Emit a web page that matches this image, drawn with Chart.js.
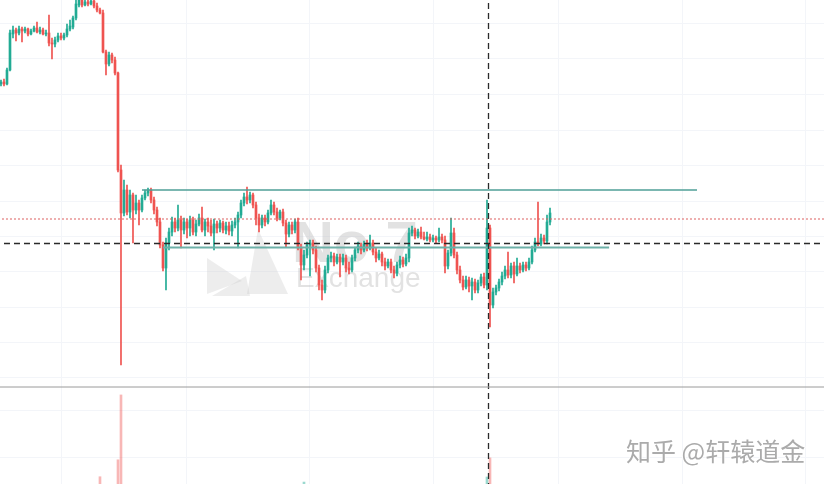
<!DOCTYPE html>
<html><head><meta charset="utf-8">
<script src="https://cdn.jsdelivr.net/npm/chart.js@4.4.0/dist/chart.umd.min.js"></script>
<style>html,body{margin:0;padding:0;background:#fff;overflow:hidden}canvas{display:block}</style>
</head><body>
<canvas id="c" width="824" height="484"></canvas>
<script>
// ---- candle data (one entry per bar, oldest first) ----
const openP = [
416,418,416,430,466,470,467,471,469,471,
466,469,472,468,470,466,467,457,456,460,
464,462,465,471,473,482,495,500,495,498,
496,499,494,490,487,448,436,445,440,427,
330,287,310,288,305,290,297,290,302,307,
310,300,290,278,255,232,257,268,278,272,
280,270,278,272,280,268,276,282,270,278,
274,267,276,272,277,270,274,269,275,278,
285,297,303,300,305,295,282,275,282,278,
287,295,288,282,288,277,266,275,270,278,
252,235,245,255,257,250,232,215,210,230,
242,244,238,243,238,242,232,230,242,250,
254,250,256,252,257,248,242,246,238,234,
238,230,227,235,240,236,242,267,270,264,
268,263,261,263,260,262,260,263,260,234,
247,267,245,230,220,213,220,214,218,210,
217,223,215,272,195,208,212,218,224,230,
225,234,226,234,230,235,232,238,250,258,
256,262,259,278];
const highP = [
420,421,432,470,474,472,474,473,473,472,
471,474,478,473,472,470,485,462,463,467,
467,467,476,480,484,500,502,503,500,502,
502,502,497,492,490,450,448,447,443,428,
335,320,315,310,307,305,300,305,310,312,
312,303,293,282,258,262,272,283,282,295,
284,282,281,284,283,280,286,293,281,282,
280,281,279,280,279,278,278,279,282,288,
300,307,313,308,307,298,286,285,285,290,
300,298,292,290,291,280,278,278,281,282,
256,250,258,260,260,254,235,220,234,245,
248,247,246,246,246,245,238,245,253,258,
257,259,260,265,260,252,250,248,242,241,
241,234,238,244,243,246,272,274,272,271,
273,268,268,266,265,264,272,266,264,250,
282,272,248,234,224,224,223,222,221,220,
226,227,300,275,212,215,221,228,234,248,
237,238,242,237,238,238,242,254,262,298,
266,265,285,292];
const lowP = [
414,414,415,429,462,459,465,458,467,464,
465,468,467,466,465,464,454,441,453,458,
460,460,463,469,471,480,493,493,494,494,
495,492,488,486,447,425,434,437,425,328,
135,284,285,282,257,286,275,288,300,304,
297,286,274,252,229,210,250,264,268,269,
252,266,262,264,265,264,274,268,264,268,
264,250,267,268,267,266,265,264,272,252,
282,294,296,297,292,275,268,272,274,276,
285,285,279,280,274,253,263,266,267,250,
220,230,242,224,246,228,210,200,207,227,
238,234,236,223,235,228,226,228,239,247,
246,248,249,250,245,238,240,234,230,232,
227,222,224,232,233,234,238,264,261,262,
261,260,259,258,258,257,258,257,227,231,
244,242,226,217,210,211,208,200,207,207,
214,212,210,173,192,205,209,215,221,222,
222,217,224,227,228,229,230,236,248,254,
254,256,256,275];
const closeP = [
418,416,430,467,470,467,471,469,471,466,
469,472,468,470,466,467,457,456,460,464,
462,465,471,474,482,496,500,495,498,496,
499,494,490,487,448,436,445,440,427,330,
287,310,288,305,290,297,290,302,307,310,
300,290,278,255,232,257,268,278,272,280,
270,278,272,280,268,276,282,270,278,274,
267,276,272,277,270,274,269,275,278,285,
297,303,300,305,295,282,275,282,278,287,
295,288,282,288,277,266,275,270,278,252,
235,245,255,257,250,232,215,210,230,242,
244,238,243,238,242,232,230,242,250,254,
250,256,252,257,248,242,246,238,234,238,
230,227,235,240,236,242,267,270,264,268,
263,261,263,260,262,260,263,260,234,247,
267,245,230,220,213,220,214,218,210,217,
223,215,272,195,208,212,218,224,230,225,
234,226,234,230,235,232,238,250,258,256,
262,259,278,287];
// visible volume spikes (bar index -> volume)
const volIndex = [33, 39, 40, 101, 162, 163];
const volValue = [150, 500, 1840, 40, 145, 540];

// drawn levels (price) and their time spans (bar index)
const rangeTop = 310, rangeTopFrom = 47, rangeTopTo = 232;
const rangeLow = 252.5, rangeLowFrom = 54, rangeLowTo = 202.7;
const lastPriceLevel = 281;
const crossPrice = 256.5;
const crossBar = 162.5;
const paneDivider = 113;

// grid positions
const priceGrid = [476,441,405,370,335,299,264,229,193,158,123,90,43];
const timeGrid = [20.33,62,103,144.3,185.7,227,268.3];

const UP = '#22ab94', DOWN = '#ef5350';
const idx = openP.map((_, i) => i);
const colors = idx.map(i => closeP[i] >= openP[i] ? UP : DOWN);

const X_MIN = -0.33, X_MAX = 274.33, Y_MIN = 16, Y_MAX = 500;

function hLine(y, x0, x1, color, width, dash, order) {
  return { type: 'line', data: [{x: x0, y: y}, {x: x1, y: y}], borderColor: color,
    borderWidth: width, borderDash: dash, pointRadius: 0, fill: false, order: order, yAxisID: 'y' };
}

const watermark = {
  id: 'wm',
  beforeDatasetsDraw(chart) {
    const c = chart.ctx; c.save();
    c.fillStyle = 'rgba(200,200,200,0.32)';
    c.beginPath(); c.moveTo(207,258); c.lineTo(242,281); c.lineTo(207,294); c.closePath(); c.fill();
    c.beginPath(); c.moveTo(212,296); c.lineTo(246,276); c.lineTo(250,296); c.closePath(); c.fill();
    c.beginPath(); c.moveTo(258,229); c.lineTo(288,294); c.lineTo(247,294); c.closePath(); c.fill();
    c.fillStyle = 'rgba(190,190,190,0.45)';
    c.font = 'bold 58px "Liberation Sans", Arial, sans-serif';
    c.textBaseline = 'alphabetic';
    c.fillText('No 7', 292, 262);
    c.font = '28px "Liberation Sans", Arial, sans-serif';
    c.fillText('Exchange', 296, 287);
    c.restore();
  },
  afterDraw(chart) {
    const c = chart.ctx; c.save();
    c.font = '25px "Noto Sans CJK SC", sans-serif';
    c.textBaseline = 'middle';
    c.lineWidth = 2; c.strokeStyle = 'rgba(255,255,255,0.8)';
    c.strokeText('知乎 @轩辕道金', 626, 451);
    c.fillStyle = '#ababab';
    c.fillText('知乎 @轩辕道金', 626, 451);
    c.restore();
  }
};

new Chart(document.getElementById('c'), {
  type: 'bar',
  data: {
    datasets: [
      { label: 'wick', data: idx.map(i => ({x: i, y: [lowP[i], highP[i]]})), backgroundColor: colors,
        barThickness: 1, grouped: false, order: 4, yAxisID: 'y' },
      { label: 'body', data: idx.map(i => ({x: i, y: [openP[i], closeP[i]]})), backgroundColor: colors,
        barThickness: 2, minBarLength: 1, grouped: false, order: 3, yAxisID: 'y' },
      { label: 'volume', data: volIndex.map((b, k) => ({x: b, y: volValue[k]})),
        backgroundColor: volIndex.map(b => closeP[b] >= openP[b] ? 'rgba(34,171,148,0.45)' : 'rgba(239,83,80,0.42)'),
        barThickness: 2, grouped: false, order: 5, yAxisID: 'yv' },
      hLine(rangeTop, rangeTopFrom, rangeTopTo, '#4f9f97', 1.5, [], 1),
      hLine(rangeLow, rangeLowFrom, rangeLowTo, '#6db0a8', 2, [], 1),
      hLine(lastPriceLevel, X_MIN - 2, X_MAX + 2, '#dc5f5f', 1, [2, 2], 1),
      hLine(crossPrice, X_MIN - 2, X_MAX + 2, '#2a2a2a', 1.3, [6, 4], 0),
      hLine(paneDivider, X_MIN - 2, X_MAX + 2, '#9a9a9a', 1, [], 0),
      { type: 'line', data: [{x: crossBar, y: Y_MIN - 5}, {x: crossBar, y: Y_MAX + 5}], borderColor: '#2a2a2a',
        borderWidth: 1.3, borderDash: [6, 4], pointRadius: 0, fill: false, order: 0, yAxisID: 'y' }
    ]
  },
  options: {
    responsive: false, animation: false, devicePixelRatio: 1,
    layout: { padding: 0 },
    plugins: { legend: { display: false }, tooltip: { enabled: false } },
    scales: {
      x: { type: 'linear', min: X_MIN, max: X_MAX, offset: false,
        grid: { color: '#f3f5f9', drawTicks: false, offset: false }, border: { display: false },
        ticks: { display: false },
        afterBuildTicks: s => { s.ticks = timeGrid.map(v => ({value: v})); } },
      y: { type: 'linear', min: Y_MIN, max: Y_MAX,
        grid: { color: '#f3f5f9', drawTicks: false }, border: { display: false },
        ticks: { display: false },
        afterBuildTicks: s => { s.ticks = priceGrid.map(v => ({value: v})); } },
      yv: { type: 'linear', display: false, min: 0, max: 10000 }
    }
  },
  plugins: [watermark]
});
</script>
</body></html>
